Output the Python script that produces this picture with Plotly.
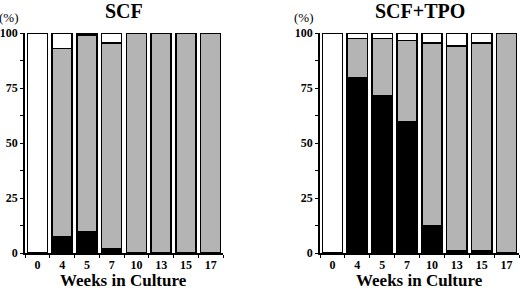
import plotly.graph_objects as go
from plotly.subplots import make_subplots

weeks = ["0", "4", "5", "7", "10", "13", "15", "17"]
scf_black = [0, 7.5, 9.5, 2, 0, 0, 0, 0]
scf_gray = [0, 85.5, 89.5, 93.5, 100, 100, 100, 100]
scf_white = [100, 7, 1, 4.5, 0, 0, 0, 0]
tpo_black = [0, 79.5, 71.5, 59.5, 12.5, 1, 1, 0]
tpo_gray = [0, 18, 26, 37, 83, 93, 94.5, 100]
tpo_white = [100, 2.5, 2.5, 3.5, 4.5, 6, 4.5, 0]
panel_titles = ["SCF", "SCF+TPO"]
x_title = "Weeks in Culture"
y_ticks = [0, 25, 50, 75, 100]

FONT = "Liberation Serif"
W, H = 520, 289
fig = make_subplots(rows=1, cols=2)

for col, (blk, gry, wht) in enumerate([(scf_black, scf_gray, scf_white),
                                       (tpo_black, tpo_gray, tpo_white)], start=1):
    for vals, color in [(blk, "#000000"), (gry, "#b4b4b4"), (wht, "#ffffff")]:
        fig.add_trace(go.Bar(x=weeks, y=vals, marker=dict(color=color, line=dict(color="black", width=1.5)),
                             cliponaxis=False, showlegend=False, hoverinfo="skip"), row=1, col=col)

fig.update_layout(barmode="stack", bargap=0.19, width=W, height=H,
                  margin=dict(l=0, r=0, t=0, b=0, autoexpand=False), paper_bgcolor="white", plot_bgcolor="white",
                  font=dict(family=FONT, color="black"))

xdoms = [[25 / W, 223 / W], [320 / W, 519 / W]]
ydom = [(H - 253) / H, (H - 33) / H]
for i in range(2):
    xa = "xaxis" if i == 0 else "xaxis2"
    ya = "yaxis" if i == 0 else "yaxis2"
    fig.layout[xa].update(domain=xdoms[i], showline=True, linecolor="black", linewidth=1.5,
                          ticks="outside", tickson="boundaries", ticklen=3, tickwidth=1.2, tickcolor="black",
                          tickvals=weeks, ticktext=["<b>" + w + "</b>" for w in weeks],
                          tickfont=dict(family=FONT, size=12, color="black"),
                          automargin=False, showgrid=False)
    fig.layout[ya].update(domain=ydom, range=[0, 100], showline=True, linecolor="black", linewidth=1.5,
                          tickvals=y_ticks, ticktext=["<b>%d</b>" % v for v in y_ticks],
                          ticks="outside", ticklen=3, tickwidth=1.2, tickcolor="black",
                          minor=dict(ticks="outside", dtick=12.5, ticklen=3, tickwidth=1, tickcolor="black"),
                          tickfont=dict(family=FONT, size=12, color="black"),
                          automargin=False, showgrid=False, zeroline=False)
    cx = (xdoms[i][0] + xdoms[i][1]) / 2
    fig.add_annotation(text="<b>" + panel_titles[i] + "</b>", x=cx, y=1 - 11 / H, xref="paper", yref="paper",
                       showarrow=False, font=dict(family=FONT, size=20), xanchor="center", yanchor="middle")
    fig.add_annotation(text="<b>" + x_title + "</b>", x=cx, y=1 - 280 / H, xref="paper", yref="paper",
                       showarrow=False, font=dict(family=FONT, size=17), xanchor="center", yanchor="middle")
    fig.add_annotation(text="(%)", x=xdoms[i][0] - 4 / W, y=1 - 18 / H, xref="paper", yref="paper",
                       showarrow=False, font=dict(family=FONT, size=13), xanchor="right", yanchor="middle")

fig.write_html("out.html", config={"displayModeBar": False},
               post_script="document.body.style.margin='0';document.body.style.overflow='hidden';")
